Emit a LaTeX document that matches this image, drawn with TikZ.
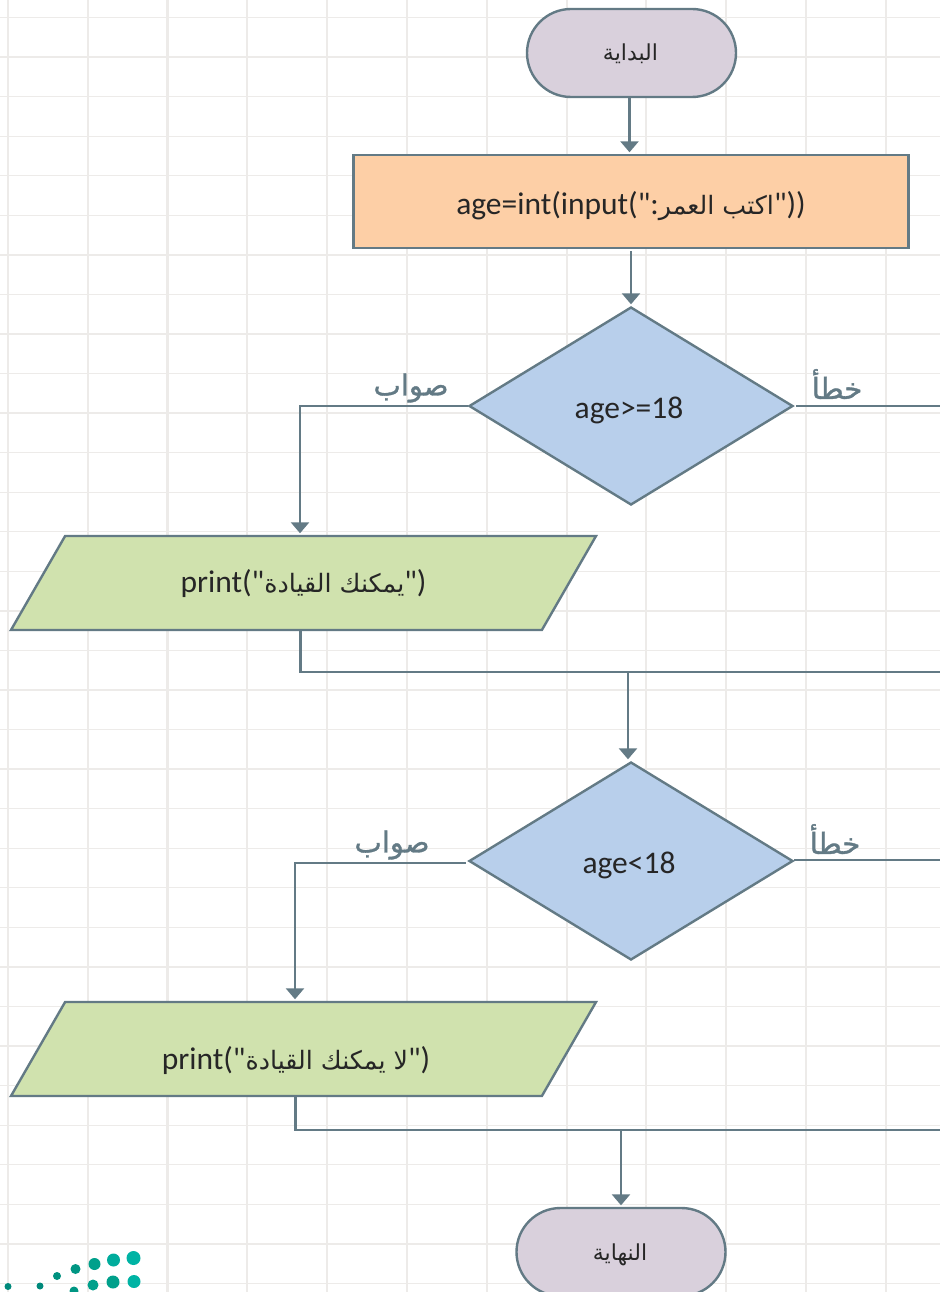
\documentclass[tikz,border=0pt]{standalone}
\usepackage{fontspec}
\newfontfamily\codefont{Carlito}
\newfontfamily\arabicfont[Script=Arabic]{DejaVu Sans}
\newfontfamily\branchfont[Script=Arabic,FakeBold=1.2]{DejaVu Sans}
\TeXXeTstate=1
\usetikzlibrary{arrows.meta,shapes.geometric,shapes.misc}
\definecolor{linegray}{HTML}{637A85}
\definecolor{gridgray}{HTML}{EDEBE9}
\definecolor{termfill}{HTML}{D9D0DC}
\definecolor{procfill}{HTML}{FDCFA6}
\definecolor{decfill}{HTML}{B8CFEB}
\definecolor{printfill}{HTML}{D0E2AE}
\newcommand{\ar}[2][25.3]{{\arabicfont\fontsize{#1}{30}\selectfont\beginR #2\endR}}
\newcommand{\arb}[1]{{\branchfont\fontsize{29}{30}\selectfont\beginR #1\endR}}
\tikzset{
	shapeline/.style={draw=linegray, line width=2.4pt, text=black!85, font=\codefont\fontsize{31.5}{34}\selectfont, inner sep=0pt, text height=26pt, text depth=4pt},
	terminal/.style={shapeline, rounded rectangle, fill=termfill, minimum width=209pt, minimum height=88pt, text height=19pt, text depth=3pt},
	process/.style={shapeline, rectangle, fill=procfill, minimum width=555pt, minimum height=93pt, text height=30pt},
	decision/.style={shapeline, diamond, fill=decfill, minimum width=324pt, minimum height=198pt, text height=28pt},
	printbox/.style={shapeline, trapezium, trapezium left angle=29, trapezium right angle=151, trapezium stretches body=true, fill=printfill, minimum width=585pt, minimum height=94pt},
	flow/.style={draw=linegray, line width=2.5pt},
	flowarrow/.style={flow, -{Triangle[width=18pt,length=11pt]}, shorten >=1.5pt},
	branch/.style={text=linegray, inner sep=0pt}
}
\begin{document}
\begin{tikzpicture}[x=1pt, y=-1pt]
\clip (0,0) rectangle (940,1292);
\fill[white] (0,0) rectangle (940,1292);
% grid
\foreach \i in {0,...,11}
	\draw[gridgray, line width=2pt] ({8+79.8*\i},0) -- ({8+79.8*\i},1292);
\draw[gridgray, line width=3pt] (167.5,0) -- (167.5,1292);
\foreach \i in {0,...,32}
	\draw[gridgray, line width=1.3pt] (0,{17.5+39.56*\i}) -- (940,{17.5+39.56*\i});
% logo
\foreach \px/\py/\pr/\pc in {8/1286.5/3.5/00897B, 40/1286/3.5/00897B, 57/1276/4/00917F, 75.5/1269/5/009683, 94.5/1264/6/00A08B, 113.5/1260/6.5/00AC9C, 133.5/1258/7/00B3A4, 74/1291/4.5/009683, 93/1285/5.5/00A08B, 113/1282/6.5/00A08B, 134/1281.5/6.5/00B3A4}{
	\definecolor{dotcol}{HTML}{\pc}
	\fill[dotcol] (\px,\py) circle (\pr pt);
}
% shapes
\node[terminal] (start) at (631.5,53) {\kern-2pt\ar[22]{البداية}};
\node[process] (inputage) at (631,201.5) {age=int(input(":\ar{اكتب العمر}"))};
\node[decision] (testadult) at (631,406) {\kern-4pt age>=18};
\node[printbox] (printyes) at (303.5,583) {\raisebox{2pt}{print("\ar{يمكنك القيادة}")}};
\node[decision] (testminor) at (631,861) {\kern-4pt age<18};
\node[printbox] (printno) at (303.5,1049) {\raisebox{-9pt}{\makebox[0pt]{\kern-15pt print("\ar{لا يمكنك القيادة}")}}};
\node[terminal] (finish) at (621,1252) {\kern-2pt\ar[22]{النهاية}};
% off page ends and joins
\coordinate (adultoff) at (940,406);
\coordinate (joinone) at (628,672);
\coordinate (joinoff) at (940,672);
\coordinate (minoroff) at (940,860);
\coordinate (jointwo) at (621,1130);
\coordinate (endoff) at (940,1130);
% connectors
\draw[flowarrow] ([xshift=-2pt]start.south) -- ([xshift=-2pt]start.south |- inputage.north);
\draw[flowarrow] ([yshift=-2pt]inputage.south) -- (testadult.north);
\draw[flowarrow] (testadult.west) -| ([xshift=-3.5pt]printyes.north);
\draw[flow] ([xshift=2pt]testadult.east) -- (adultoff);
\draw[flow] ([xshift=-3pt]printyes.south) |- (joinoff);
\draw[flowarrow] (joinone) -- (joinone |- testminor.north);
\draw[flowarrow] ([xshift=-2pt,yshift=-2pt]testminor.west) -| ([xshift=-8.5pt]printno.north);
\draw[flow] ([yshift=1pt]testminor.east) -- (minoroff);
\draw[flow] ([xshift=-8pt]printno.south) |- (endoff);
\draw[flowarrow] (jointwo) -- (jointwo |- finish.north);
% branch labels
\node[branch] (yesone) at (411,388) {\arb{صواب}};
\node[branch] (noone) at (837,384) {\arb{خطأ}};
\node[branch] (yestwo) at (392,845) {\arb{صواب}};
\node[branch] (notwo) at (835,839) {\arb{خطأ}};
\end{tikzpicture}
\end{document}
